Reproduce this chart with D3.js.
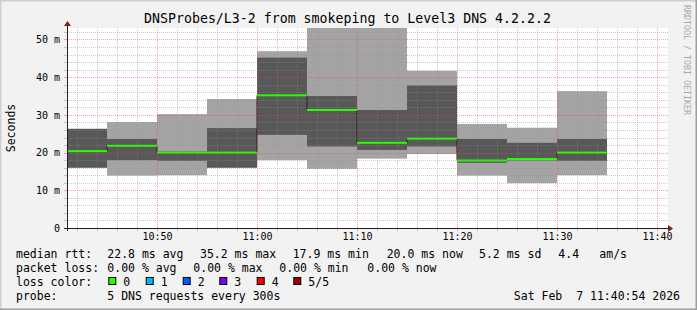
<!DOCTYPE html>
<html><head><meta charset="utf-8">
<script src="https://cdn.jsdelivr.net/npm/d3@7"></script>
<style>
html,body{margin:0;padding:0;background:#f2f2f2}
svg{display:block}
text{font-family:"DejaVu Sans Mono",monospace;white-space:pre}
</style>
</head><body>
<svg id="c" width="697" height="310"></svg>
<script>
// ---------------- data ----------------
const title = "DNSProbes/L3-2 from smokeping to Level3 DNS 4.2.2.2";
const yLabel = "Seconds";
const sideLabel = "RRDTOOL / TOBI OETIKER";
const binStarts = ["10:40","10:45","10:50","10:55","11:00","11:05","11:10","11:15","11:20","11:25","11:30"];
const pingMin  = [16.0, 13.9, 14.0, 16.0, 18.0, 15.7, 18.4, 19.6, 13.9, 11.9, 14.0];
const ping2    = [16.0, 18.0, 17.8, 16.0, 24.7, 21.6, 20.7, 21.6, 17.3, 17.9, 17.8];
const median   = [20.4, 21.8, 20.0, 20.0, 35.2, 31.3, 22.6, 23.7, 17.9, 18.3, 20.0];
const ping4    = [26.3, 23.6, 20.3, 26.5, 45.2, 35.0, 31.3, 37.8, 23.6, 22.6, 23.6];
const pingMax  = [26.3, 28.1, 30.2, 34.2, 46.9, 56.0, 54.0, 41.7, 27.6, 26.6, 36.3];
const loss     = [0, 0, 0, 0, 0, 0, 0, 0, 0, 0, 0];
const yTicks = [0, 10, 20, 30, 40, 50];
const yTickLabels = ["0", "10 m", "20 m", "30 m", "40 m", "50 m"];
const xTickLabels = ["10:50", "11:00", "11:10", "11:20", "11:30", "11:40"];
const xStart = "10:41", xEnd = "11:41";
const yMax = 53.05;
const lossLabels = ["0", "1", "2", "3", "4", "5/5"];
const lossColors = ["#26ff00", "#00b8ff", "#0059ff", "#7e00ff", "#ff0000", "#a10000"];
const medianStats = ["median rtt:", "22.8 ms avg", "35.2 ms max", "17.9 ms min", "20.0 ms now", "5.2 ms sd", "4.4", "am/s"];
const lossStats = ["packet loss:", "0.00 % avg", "0.00 % max", "0.00 % min", "0.00 % now"];
const lossColorLabel = "loss color:";
const probeTexts = ["probe:", "5 DNS requests every 300s"];
const dateText = "Sat Feb  7 11:40:54 2026";

// ---------------- layout ----------------
const W = 697, H = 310;
const L = 67, R = 667, T = 28, B = 228;
const parse = d3.timeParse("%H:%M");
const svg = d3.select("#c");

const x = d3.scaleTime().domain([parse(xStart), parse(xEnd)]).range([L, R]);
const y = d3.scaleLinear().domain([0, yMax]).range([B, T]);

// background + shade border
svg.append("rect").attr("width", W).attr("height", H).attr("fill", "#f2f2f2");
svg.append("path").attr("d", `M0,${H} V0 H${W}`).attr("fill", "none").attr("stroke", "#cfcfcf").attr("stroke-width", 3);
svg.append("path").attr("d", `M0,${H} H${W} V0`).attr("fill", "none").attr("stroke", "#9e9e9e").attr("stroke-width", 3);

// canvas
svg.append("rect").attr("x", L).attr("y", T).attr("width", R - L + 1).attr("height", B - T).attr("fill", "#fff");

svg.append("defs").append("clipPath").attr("id", "clip")
  .append("rect").attr("x", L).attr("y", T).attr("width", R - L).attr("height", B - T);

const bins = binStarts.map((s, i) => {
  const t0 = parse(s);
  const t1 = d3.timeMinute.offset(t0, 5);
  return { t0, t1, min: pingMin[i], p2: ping2[i], med: median[i], p4: ping4[i], max: pingMax[i], loss: loss[i] };
});

const g = svg.append("g").attr("clip-path", "url(#clip)");
// outer smoke
g.selectAll("rect.light").data(bins).join("rect").attr("class", "light")
  .attr("x", d => x(d.t0)).attr("width", d => x(d.t1) - x(d.t0))
  .attr("y", d => y(d.max)).attr("height", d => y(d.min) - y(d.max))
  .attr("fill", "#a4a4a4");
// inner smoke
g.selectAll("rect.dark").data(bins).join("rect").attr("class", "dark")
  .attr("x", d => x(d.t0)).attr("width", d => x(d.t1) - x(d.t0))
  .attr("y", d => y(d.p4)).attr("height", d => y(d.p2) - y(d.p4))
  .attr("fill", "#585858");

// grid
const minorX = d3.timeMinute.every(2).range(parse(xStart), d3.timeMinute.offset(parse(xEnd), 1))
  .filter(t => t.getMinutes() % 10 !== 0);
const majorX = xTickLabels.map(parse);
const minorY = d3.range(0, yMax, 2).filter(v => v % 10 !== 0 && v > 0);
const gridC = "rgba(143,143,143,0.45)", mgridC = "rgba(222,79,79,0.5)";
const grid = svg.append("g").attr("shape-rendering", "crispEdges");
function vline(t, c) {
  const px = Math.round(x(t)) + 0.5;
  grid.append("line").attr("x1", px).attr("x2", px).attr("y1", T).attr("y2", B)
    .attr("stroke", c).attr("stroke-dasharray", "1,1");
  grid.append("line").attr("x1", px).attr("x2", px).attr("y1", B - 1).attr("y2", B + 3).attr("stroke", c);
}
function hline(v, c) {
  const py = Math.round(y(v)) + 0.5;
  grid.append("line").attr("x1", L).attr("x2", R + 1).attr("y1", py).attr("y2", py)
    .attr("stroke", c).attr("stroke-dasharray", "1,1");
  grid.append("line").attr("x1", L - 3).attr("x2", L + 1).attr("y1", py).attr("y2", py).attr("stroke", c);
}
minorX.forEach(t => vline(t, gridC));
minorY.forEach(v => hline(v, gridC));
majorX.forEach(t => vline(t, mgridC));
yTicks.filter(v => v > 0).forEach(v => hline(v, mgridC));

// median step line (dark)
const stepPts = [];
bins.forEach(d => { stepPts.push([d.t0, d.med]); stepPts.push([d.t1, d.med]); });
g.append("path").datum(stepPts)
  .attr("d", d3.line().x(p => x(p[0])).y(p => y(p[1])))
  .attr("fill", "none").attr("stroke", "#202020").attr("stroke-width", 1);
// loss-coloured median band
const sw = yMax / 200;
g.selectAll("rect.med").data(bins).join("rect").attr("class", "med")
  .attr("x", d => x(d.t0)).attr("width", d => x(d.t1) - x(d.t0))
  .attr("y", d => y(d.med + sw)).attr("height", d => y(d.med - sw) - y(d.med + sw))
  .attr("fill", d => lossColors[d.loss]);

// axes lines + arrows
svg.append("line").attr("x1", L - 3).attr("x2", R + 3).attr("y1", B + 0.5).attr("y2", B + 0.5)
  .attr("stroke", "#1f1f1f").attr("stroke-width", 1);
svg.append("line").attr("x1", L + 0.5).attr("x2", L + 0.5).attr("y1", B + 3).attr("y2", T - 3)
  .attr("stroke", "#1f1f1f").attr("stroke-width", 1);
svg.append("path").attr("d", `M${R + 1},${B - 3} L${R + 6},${B + 0.5} L${R + 1},${B + 4} Z`).attr("fill", "#801f1f");
svg.append("path").attr("d", `M${L - 3},${T - 2} L${L + 0.5},${T - 7} L${L + 4},${T - 2} Z`).attr("fill", "#801f1f");

// axis labels via d3 axes
const yAxis = d3.axisLeft(y).tickValues(yTicks).tickFormat((d, i) => yTickLabels[i]).tickSize(0).tickPadding(7);
const ya = svg.append("g").attr("transform", `translate(${L},0)`).call(yAxis);
ya.select(".domain").remove();
ya.selectAll("text").attr("font-family", "DejaVu Sans Mono").attr("font-size", "10px").attr("fill", "#000");

const xAxis = d3.axisBottom(x).tickValues(majorX).tickFormat((d, i) => xTickLabels[i]).tickSize(0).tickPadding(5);
const xa = svg.append("g").attr("transform", `translate(0,${B})`).call(xAxis);
xa.select(".domain").remove();
xa.selectAll("text").attr("font-family", "DejaVu Sans Mono").attr("font-size", "10px").attr("fill", "#000");

// title & labels
svg.append("text").attr("x", 347.5).attr("y", 23.3).attr("text-anchor", "middle")
  .attr("font-size", "13.25px").attr("fill", "#000").text(title);
svg.append("text").attr("transform", `translate(15,${(T + B) / 2}) rotate(-90)`).attr("text-anchor", "middle")
  .attr("font-size", "11.5px").attr("fill", "#000").text(yLabel);
svg.append("text").attr("transform", `translate(684,5) rotate(90)`).attr("text-anchor", "start")
  .attr("font-size", "8.3px").attr("fill", "#a8a8a8").text(sideLabel);

// legend
const fs = "11.5px";
const row1X = [16, 107.3, 200, 292.7, 386.7, 479, 558.3, 599.3];
const row2X = [16, 107.3, 193.3, 279.3, 367.3];
const leg = svg.append("g").attr("font-size", fs).attr("fill", "#000");
leg.selectAll("text.r1").data(medianStats).join("text").attr("class", "r1")
  .attr("x", (d, i) => row1X[i]).attr("y", 258).text(d => d);
leg.selectAll("text.r2").data(lossStats).join("text").attr("class", "r2")
  .attr("x", (d, i) => row2X[i]).attr("y", 272).text(d => d);
leg.append("text").attr("x", 16).attr("y", 286).text(lossColorLabel);
const boxX = [108.3, 145.7, 182.7, 219.3, 256.7, 293.3];
lossLabels.forEach((lab, i) => {
  leg.append("rect").attr("x", boxX[i] + 0.5).attr("y", 277.5).attr("width", 7).attr("height", 7)
    .attr("fill", lossColors[i]).attr("stroke", "#000").attr("stroke-width", 1);
  leg.append("text").attr("x", boxX[i] + 15).attr("y", 286).text(lab);
});
leg.append("text").attr("x", 16).attr("y", 300).text(probeTexts[0]);
leg.append("text").attr("x", 107.3).attr("y", 300).text(probeTexts[1]);
leg.append("text").attr("x", 680).attr("y", 300).attr("text-anchor", "end").text(dateText);
</script>
</body></html>
